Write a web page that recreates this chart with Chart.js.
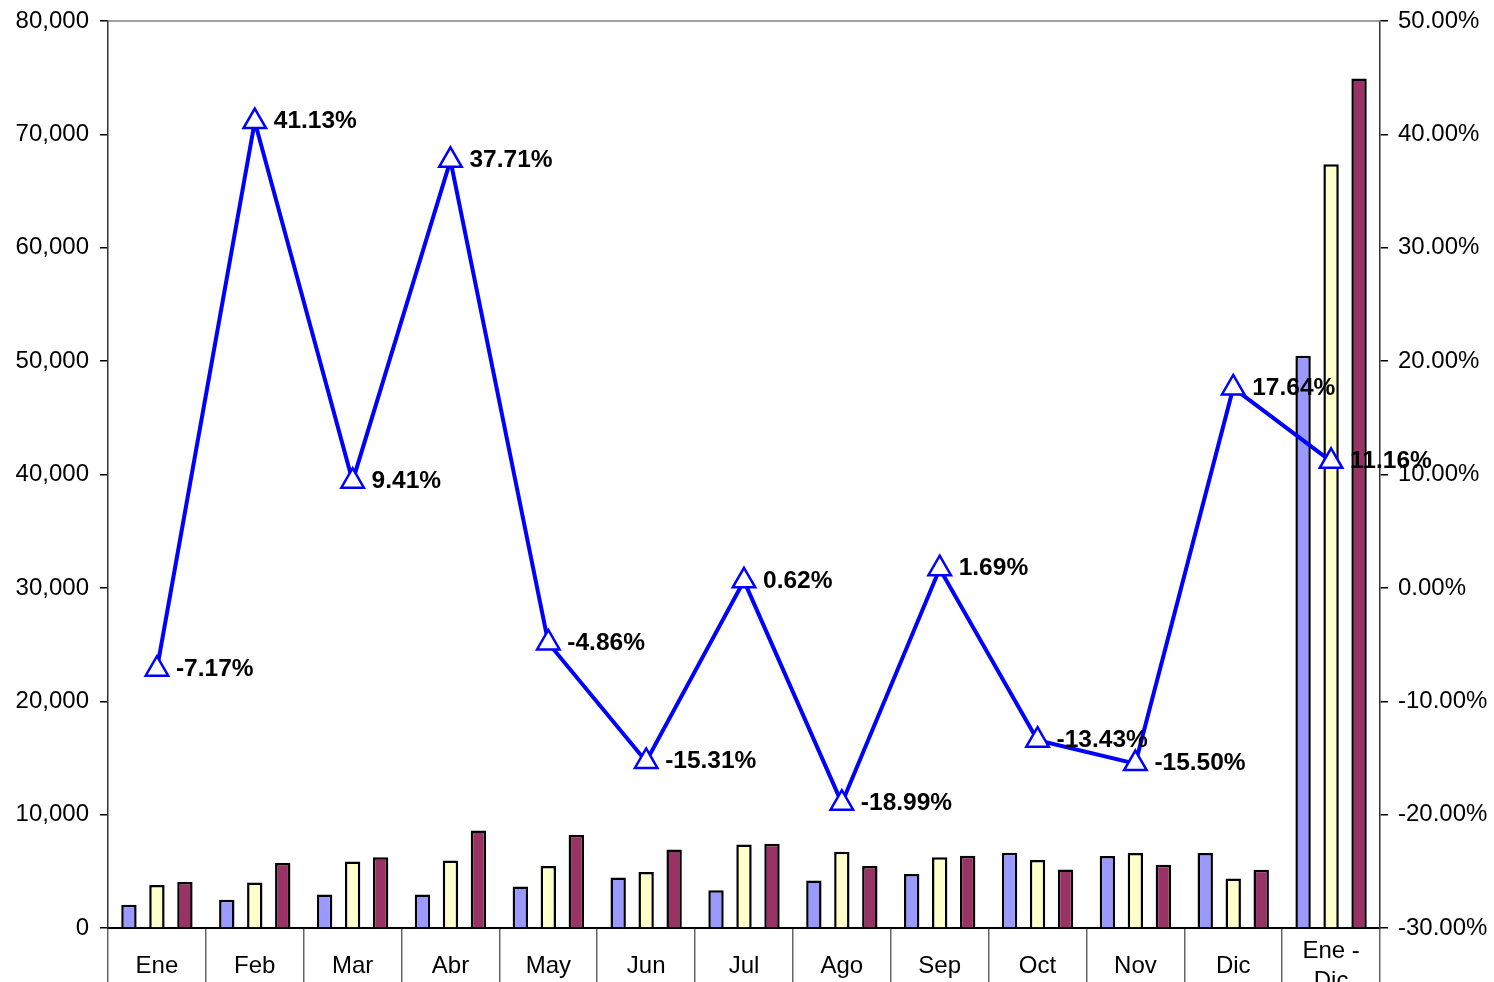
<!DOCTYPE html>
<html>
<head>
<meta charset="utf-8">
<script src="https://cdn.jsdelivr.net/npm/chart.js@4"></script>
<style>
  html, body { margin: 0; padding: 0; background: #fff; overflow: hidden; }
  #wrap { width: 1494px; height: 982px; }
</style>
</head>
<body>
<div id="wrap"><canvas id="salesChart" width="1494" height="982"></canvas></div>
<script>
const categories = ['Ene', 'Feb', 'Mar', 'Abr', 'May', 'Jun', 'Jul', 'Ago', 'Sep', 'Oct', 'Nov', 'Dic', ['Ene -', 'Dic']];

// monthly volumes
const seriesBlue = [2050, 2500, 2960, 2960, 3670, 4460, 3320, 4200, 4760, 6640, 6350, 6610, 50480];
const seriesYellow = [3800, 4020, 5870, 5960, 5470, 4940, 7370, 6730, 6230, 6000, 6610, 4370, 67370];
const seriesMaroon = [4060, 5730, 6230, 8610, 8200, 6930, 7430, 5470, 6380, 5170, 5580, 5140, 74930];

// variation %, right axis
const variation = [-7.17, 41.13, 9.41, 37.71, -4.86, -15.31, 0.62, -18.99, 1.69, -13.43, -15.50, 17.64, 11.16];

const leftTicks = { min: 0, max: 80000, step: 10000 };
const rightTicks = { min: -30, max: 50, step: 10 };

const FONT = "'Liberation Sans', Arial, sans-serif";

// top border of the plot area + value labels next to the triangles
const extras = {
  id: 'extras',
  beforeDatasetsDraw(chart) {
    const { ctx, chartArea } = chart;
    ctx.save();
    ctx.strokeStyle = '#808080';
    ctx.lineWidth = 1.5;
    ctx.beginPath();
    ctx.moveTo(chartArea.left, chartArea.top);
    ctx.lineTo(chartArea.right, chartArea.top);
    ctx.stroke();
    ctx.restore();
  },
  afterDatasetsDraw(chart) {
    const { ctx } = chart;
    const meta = chart.getDatasetMeta(0);
    ctx.save();
    ctx.font = 'bold 24.5px ' + FONT;
    ctx.fillStyle = '#000';
    ctx.textAlign = 'left';
    ctx.textBaseline = 'middle';
    meta.data.forEach((pt, i) => {
      ctx.fillText(variation[i].toFixed(2) + '%', pt.x + 19, pt.y);
    });
    ctx.restore();
  }
};

// fixed axis sizes so the plot area sits where the original one does
function fixWidth(w) {
  return scale => {
    scale.width = w;
    scale.paddingTop = 0;
    scale.paddingBottom = 0;
  };
}

const ctx = document.getElementById('salesChart').getContext('2d');
const salesChart = new Chart(ctx, {
  type: 'bar',
  data: {
    labels: categories,
    datasets: [
      {
        type: 'line',
        label: 'Variación',
        data: variation,
        yAxisID: 'y1',
        borderColor: '#0000FF',
        borderWidth: 4,
        pointStyle: 'triangle',
        pointRadius: 13,
        pointBackgroundColor: '#FFFFFF',
        pointBorderColor: '#0000FF',
        pointBorderWidth: 2.5,
        fill: false,
        tension: 0,
        clip: false,
        order: 0
      },
      {
        label: 'Serie 1',
        data: seriesBlue,
        backgroundColor: '#9999FF',
        borderColor: '#000',
        borderWidth: 2.5,
        yAxisID: 'y',
        order: 1
      },
      {
        label: 'Serie 2',
        data: seriesYellow,
        backgroundColor: '#FFFFCC',
        borderColor: '#000',
        borderWidth: 2.5,
        yAxisID: 'y',
        order: 1
      },
      {
        label: 'Serie 3',
        data: seriesMaroon,
        backgroundColor: '#993366',
        borderColor: '#000',
        borderWidth: 2.5,
        yAxisID: 'y',
        order: 1
      }
    ]
  },
  options: {
    responsive: false,
    animation: false,
    datasets: {
      bar: { categoryPercentage: 0.858, barPercentage: 0.55 }
    },
    layout: { autoPadding: false, padding: { top: 21, left: 0, right: 0, bottom: 0 } },
    scales: {
      x: {
        offset: true,
        grid: {
          offset: true,
          drawOnChartArea: false,
          drawTicks: true,
          tickLength: 60,
          color: '#666',
          lineWidth: 1.5
        },
        border: { color: '#000', width: 2 },
        ticks: {
          color: '#000',
          font: { family: FONT, size: 24, lineHeight: 1.25 },
          padding: -37,
          crossAlign: 'center',
          maxRotation: 0,
          autoSkip: false
        },
        afterFit(scale) { scale.height = 54; }
      },
      y: {
        position: 'left',
        min: leftTicks.min,
        max: leftTicks.max,
        grid: { drawOnChartArea: false, tickLength: 8, color: '#000', lineWidth: 1.5 },
        border: { color: '#333', width: 1.5 },
        ticks: {
          stepSize: leftTicks.step,
          color: '#000',
          padding: 11,
          font: { family: FONT, size: 24 },
          callback: v => v.toLocaleString('en-US')
        },
        afterFit: fixWidth(108)
      },
      y1: {
        position: 'right',
        min: rightTicks.min,
        max: rightTicks.max,
        grid: { drawOnChartArea: false, tickLength: 8, color: '#000', lineWidth: 1.5 },
        border: { color: '#333', width: 1.5 },
        ticks: {
          stepSize: rightTicks.step,
          color: '#000',
          padding: 10,
          font: { family: FONT, size: 24 },
          callback: v => v.toFixed(2) + '%'
        },
        afterFit: fixWidth(114)
      }
    },
    plugins: {
      legend: { display: false },
      tooltip: { enabled: false }
    }
  },
  plugins: [extras]
});
</script>
</body>
</html>
